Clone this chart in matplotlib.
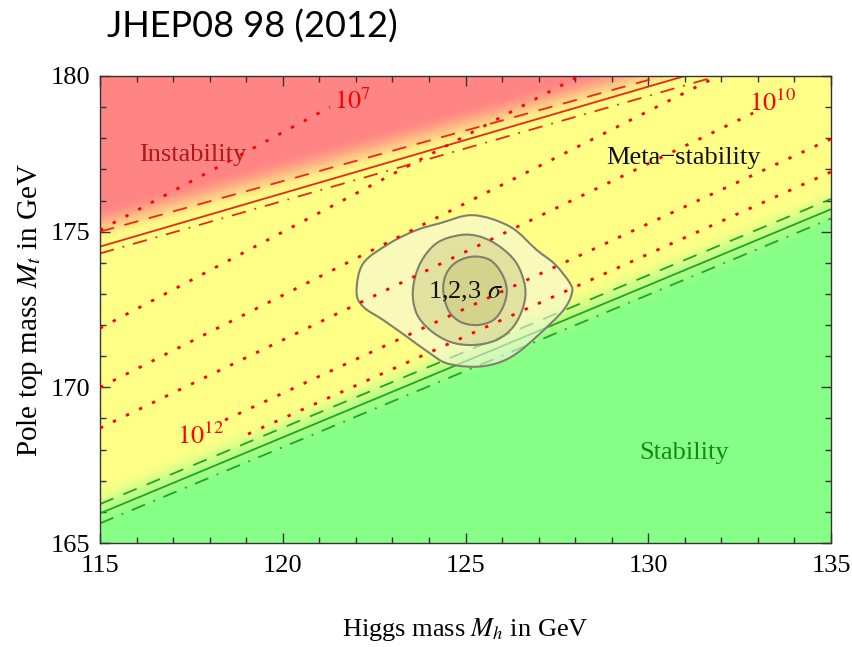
import numpy as np
import matplotlib
matplotlib.use('Agg')
import matplotlib.pyplot as plt
from matplotlib.patches import PathPatch
from matplotlib.path import Path
from matplotlib.ticker import MultipleLocator

plt.rcParams['font.family'] = ['Liberation Serif', 'DejaVu Serif']
plt.rcParams['mathtext.fontset'] = 'stix'

#=================== data (GeV) ===================
x_range = [115, 135]
y_range = [165, 180]

# instability boundary (red): central, upper dashed, lower dash-dot
red_solid_x = [115, 131.0]
red_solid_y = [174.52, 180]
red_dash_x = [115, 130.4]
red_dash_y = [175.0, 180]
red_dashdot_x = [115, 131.9]
red_dashdot_y = [174.30, 180]

# stability boundary (green)
green_solid_x = [115, 135]
green_solid_y = [165.95, 175.72]
green_dash_x = [115, 135]
green_dash_y = [166.25, 176.05]
green_dashdot_x = [115, 135]
green_dashdot_y = [165.63, 175.42]

# centre of the colour grading between regions
bg_red_x = [115, 131.0]
bg_red_y = [175.2, 180.4]
bg_green_x = [115, 135]
bg_green_y = [166.15, 175.8]

# dotted instability-scale lines (start/end points)
lam_x = [[115, 121.29], [115, 128.11], [115, 131.91],
         [115, 132.87], [118.42, 135], [119.05, 135]]
lam_y = [[175.05, 179.0], [171.90, 180], [170.00, 180],
         [168.69, 178.81], [168.95, 177.98], [168.50, 176.92]]
lam_labels = [r'$10^7$', r'$10^{10}$', r'$10^{12}$']
lam_label_x = [121.9, 133.4, 117.75]
lam_label_y = [179.2, 179.15, 168.45]

# 1,2,3 sigma regions
c3_x = [122.02, 122.20, 122.93, 123.66, 124.30, 125.21, 126.22, 126.95, 127.45, 127.86, 127.91,
        127.68, 127.04, 126.40, 125.85, 125.21, 124.49, 124.03, 123.39, 122.75, 122.20]
c3_y = [173.07, 173.98, 174.63, 175.05, 175.27, 175.53, 175.16, 174.41, 173.95, 173.34, 173.02,
        172.48, 171.73, 171.09, 170.77, 170.66, 170.77, 171.09, 171.63, 172.16, 172.59]
c2_x = [123.56, 123.76, 124.21, 124.85, 125.40, 125.94, 126.40, 126.63, 126.58, 126.31, 125.85,
        125.21, 124.58, 124.03, 123.66]
c2_y = [173.13, 173.98, 174.63, 174.89, 174.84, 174.52, 173.98, 173.23, 172.59, 171.95, 171.52,
        171.36, 171.46, 171.84, 172.38]
c1_x = [124.39, 124.48, 124.76, 125.21, 125.67, 125.99, 126.13, 126.03, 125.76, 125.31, 124.85, 124.53]
c1_y = [173.13, 173.66, 174.03, 174.20, 174.09, 173.66, 173.13, 172.59, 172.16, 172.00, 172.11, 172.48]

#=================== colours ===================
col_red = np.array([1.0, 0.52, 0.52])
col_yel = np.array([1.0, 1.0, 0.53])
col_grn = np.array([0.53, 1.0, 0.53])
line_red = '#f0241c'
line_grn = '#22a322'


def closed_curve(x, y):
    # smooth closed path through the read points (Catmull-Rom as Bezier)
    P = np.column_stack([x, y])
    n = len(P)
    verts = [P[0]]
    codes = [Path.MOVETO]
    for i in range(n):
        p0, p1, p2, p3 = P[i-1], P[i], P[(i+1) % n], P[(i+2) % n]
        verts += [p1 + (p2-p0)/6, p2 - (p3-p1)/6, p2]
        codes += [Path.CURVE4]*3
    return Path(verts, codes)


def smooth(t):
    t = np.clip(t, 0, 1)
    return t*t*(3-2*t)

#=================== plot ===================
fig = plt.figure(figsize=(8.52, 6.47), dpi=100)
ax = fig.add_axes([100/852, 1-543/647, 731/852, 467/647])

# graded background
gx = np.linspace(x_range[0], x_range[1], 400)
gy = np.linspace(y_range[0], y_range[1], 300)
GX, GY = np.meshgrid(gx, gy)
w_red = smooth((GY - np.interp(GX, bg_red_x, bg_red_y, right=np.inf)) / 1.2 + 0.5)
w_grn = smooth((np.interp(GX, bg_green_x, bg_green_y) - GY) / 1.5 + 0.5)
w_yel = np.clip(1 - w_red - w_grn, 0, 1)
img = np.clip(w_red[..., None]*col_red + w_grn[..., None]*col_grn + w_yel[..., None]*col_yel, 0, 1)
ax.imshow(img, extent=(x_range[0], x_range[1], y_range[0], y_range[1]),
          origin='lower', aspect='auto', interpolation='bilinear', zorder=0)

# boundary lines
ax.plot(red_solid_x, red_solid_y, color=line_red, lw=1.3, zorder=2)
ax.plot(red_dash_x, red_dash_y, color=line_red, lw=1.3, ls=(0, (8, 6)), zorder=2)
ax.plot(red_dashdot_x, red_dashdot_y, color=line_red, lw=1.3, ls=(0, (8, 5, 1, 5)), zorder=2)
ax.plot(green_solid_x, green_solid_y, color=line_grn, lw=1.3, zorder=2)
ax.plot(green_dash_x, green_dash_y, color=line_grn, lw=1.3, ls=(0, (8, 6)), zorder=2)
ax.plot(green_dashdot_x, green_dashdot_y, color=line_grn, lw=1.3, ls=(0, (8, 5, 1, 5)), zorder=2)

# sigma contours
ax.add_patch(PathPatch(closed_curve(c3_x, c3_y), facecolor=(0.96, 0.96, 0.86),
                       alpha=0.6, edgecolor='none', zorder=3))
ax.add_patch(PathPatch(closed_curve(c2_x, c2_y), facecolor=(0.72, 0.72, 0.45),
                       alpha=0.35, edgecolor='none', zorder=3))
ax.add_patch(PathPatch(closed_curve(c1_x, c1_y), facecolor=(0.72, 0.72, 0.4),
                       alpha=0.35, edgecolor='none', zorder=3))
for cx, cy in [(c3_x, c3_y), (c2_x, c2_y), (c1_x, c1_y)]:
    ax.add_patch(PathPatch(closed_curve(cx, cy), fill=False,
                           edgecolor='#80806c', lw=1.5, zorder=3))

# dotted lines of the instability scale
for lx, ly in zip(lam_x, lam_y):
    ax.plot(lx, ly, color='red', lw=2.0, ls=(0, (1.2, 4)), zorder=4)
for lab, tx, ty in zip(lam_labels, lam_label_x, lam_label_y):
    ax.text(tx, ty, lab, color='red', fontsize=19, ha='center', va='center', zorder=5)

# region labels
ax.text(117.55, 177.45, 'Instability', color='#b01818', fontsize=19, ha='center', va='center', zorder=5)
ax.text(130.95, 177.37, 'Meta\u2212stability', color='#111111', fontsize=19, ha='center', va='center', zorder=5)
ax.text(130.98, 167.9, 'Stability', color='#138a13', fontsize=19, ha='center', va='center', zorder=5)
ax.text(125.0, 173.06, r'1,2,3 $\sigma$', color='#111111', fontsize=19, ha='center', va='center', zorder=5)

# axes, ticks
ax.set_xlim(x_range)
ax.set_ylim(y_range)
ax.xaxis.set_major_locator(MultipleLocator(5))
ax.xaxis.set_minor_locator(MultipleLocator(1))
ax.yaxis.set_major_locator(MultipleLocator(5))
ax.yaxis.set_minor_locator(MultipleLocator(1))
ax.tick_params(which='both', direction='in', top=True, right=True, color='#333333')
ax.tick_params(which='major', length=7, width=1)
ax.tick_params(which='minor', length=4, width=1)
ax.tick_params(axis='x', labelsize=19, pad=9)
ax.tick_params(axis='y', labelsize=19, pad=7)
for s in ax.spines.values():
    s.set_color('#333333')
    s.set_linewidth(1.0)

ax.set_xlabel(r'Higgs mass $M_h$ in GeV', fontsize=19, va='center')
ax.xaxis.set_label_coords(0.5, -0.186)
ax.set_ylabel(r'Pole top mass $M_t$ in GeV', fontsize=21, va='center')
ax.yaxis.set_label_coords(-0.096, 0.5)

fig.text(107/852, 1-27/647, 'JHEP08 98 (2012)', fontsize=26, family=['Lato', 'DejaVu Sans'],
         ha='left', va='center')

fig.savefig('out.png', dpi=100)
